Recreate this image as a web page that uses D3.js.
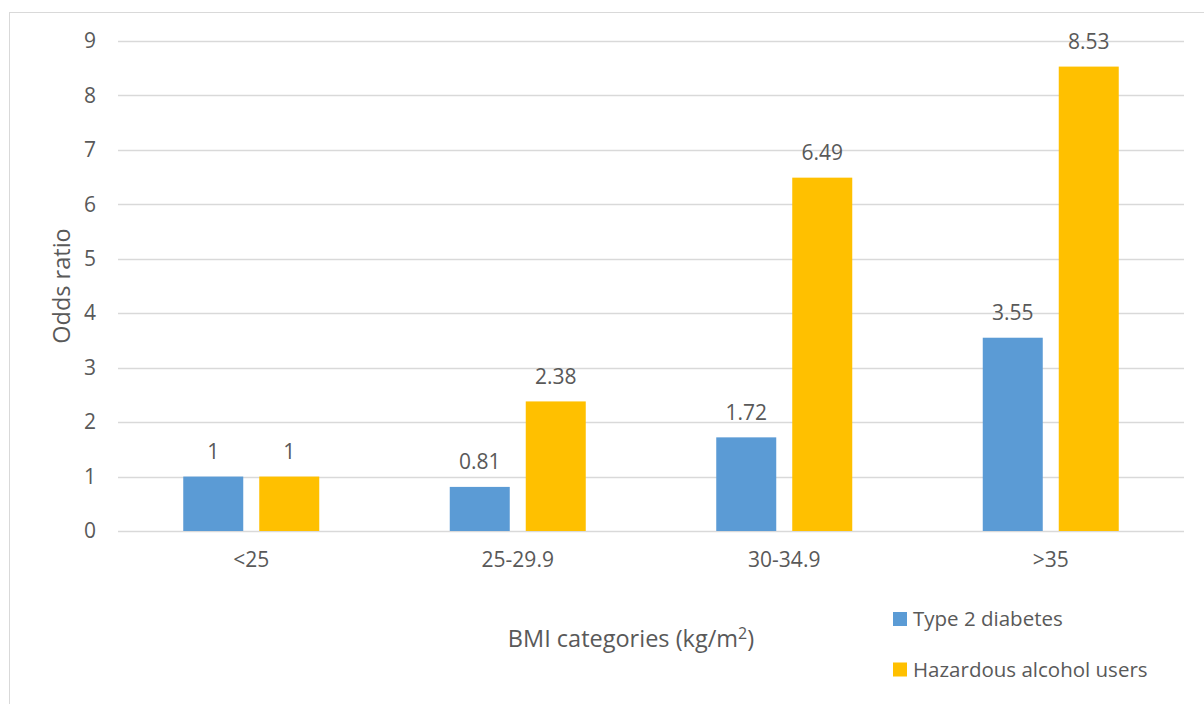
<!DOCTYPE html>
<html>
<head>
<meta charset="utf-8">
<script src="https://cdn.jsdelivr.net/npm/d3@7"></script>
<style>
  html, body { margin: 0; padding: 0; background: #fff; }
  svg { display: block; }
  text { font-family: "Open Sans", Lato, "Liberation Sans", sans-serif; fill: #595959; }
</style>
</head>
<body>
<svg id="chart" width="1204" height="704"></svg>
<script>
// BMI categories and odds ratios for each series
const categories = ["<25", "25-29.9", "30-34.9", ">35"];
const seriesNames = ["Type 2 diabetes", "Hazardous alcohol users"];
const diabetesValues = [1, 0.81, 1.72, 3.55];
const alcoholValues = [1, 2.38, 6.49, 8.53];
const valueLabels = [["1", "0.81", "1.72", "3.55"], ["1", "2.38", "6.49", "8.53"]];
const yTicks = [0, 1, 2, 3, 4, 5, 6, 7, 8, 9];
const colors = ["#5b9bd5", "#ffc000"];

const fontFamily = "'Open Sans', Lato, sans-serif";
const labelSize = "21px";
const legendSize = "20.5px";
const titleSize = "23.5px";

const svg = d3.select("#chart");

// chart frame
svg.append("rect")
  .attr("x", 9.5).attr("y", 12.5)
  .attr("width", 1204).attr("height", 704)
  .attr("fill", "none").attr("stroke", "#d9d9d9").attr("stroke-width", 1);

const plot = { left: 118, right: 1184, top: 41, bottom: 531 };

const x = d3.scaleBand().domain(categories).range([plot.left, plot.right]);
const y = d3.scaleLinear().domain([0, 9]).range([plot.bottom, plot.top]);

const barW = 60, barGap = 16;

// gridlines
svg.append("g").selectAll("line").data(yTicks).join("line")
  .attr("x1", plot.left).attr("x2", plot.right)
  .attr("y1", d => Math.round(y(d)) + 0.5).attr("y2", d => Math.round(y(d)) + 0.5)
  .attr("stroke", "#d9d9d9").attr("stroke-width", 1.3);

// y axis
const yAxis = d3.axisLeft(y).tickValues(yTicks).tickSize(0).tickPadding(0);
const gy = svg.append("g").attr("transform", `translate(${plot.left - 22},0)`).call(yAxis);
gy.select(".domain").remove();
gy.selectAll("text").style("font-size", labelSize).attr("fill", "#595959")
  .style("font-family", fontFamily);

// x axis
const xAxis = d3.axisBottom(x).tickSize(0).tickPadding(0);
const gx = svg.append("g").attr("transform", `translate(0,${plot.bottom + 21})`).call(xAxis);
gx.select(".domain").remove();
gx.selectAll("text").style("font-size", labelSize).attr("fill", "#595959")
  .style("font-family", fontFamily);

// bars
const series = [diabetesValues, alcoholValues];
series.forEach((vals, si) => {
  const offset = si === 0 ? -(barGap / 2 + barW) : barGap / 2;
  const g = svg.append("g");
  g.selectAll("rect").data(vals).join("rect")
    .attr("x", (d, i) => x(categories[i]) + x.bandwidth() / 2 + offset)
    .attr("y", d => y(d))
    .attr("width", barW)
    .attr("height", d => y(0) - y(d))
    .attr("fill", colors[si]);
  g.selectAll("text").data(vals).join("text")
    .attr("x", (d, i) => x(categories[i]) + x.bandwidth() / 2 + offset + barW / 2)
    .attr("y", d => y(d) - 17.5)
    .attr("text-anchor", "middle")
    .style("font-size", labelSize)
    .text((d, i) => valueLabels[si][i]);
});

// axis titles
svg.append("text")
  .attr("transform", `translate(70,${(plot.top + plot.bottom) / 2}) rotate(-90)`)
  .attr("text-anchor", "middle")
  .style("font-size", titleSize)
  .text("Odds ratio");

const xt = svg.append("text")
  .attr("x", 631).attr("y", 647)
  .attr("text-anchor", "middle")
  .style("font-size", titleSize);
xt.append("tspan").text("BMI categories (kg/m");
xt.append("tspan").attr("dy", -8).style("font-size", "16px").text("2");
xt.append("tspan").attr("dy", 8).text(")");

// legend
const legend = svg.append("g");
seriesNames.forEach((name, i) => {
  const ly = 612 + i * 50.5;
  legend.append("rect").attr("x", 893).attr("y", ly).attr("width", 14).attr("height", 14).attr("fill", colors[i]);
  legend.append("text").attr("x", 913).attr("y", ly + 14)
    .style("font-size", legendSize).text(name);
});
</script>
</body>
</html>
